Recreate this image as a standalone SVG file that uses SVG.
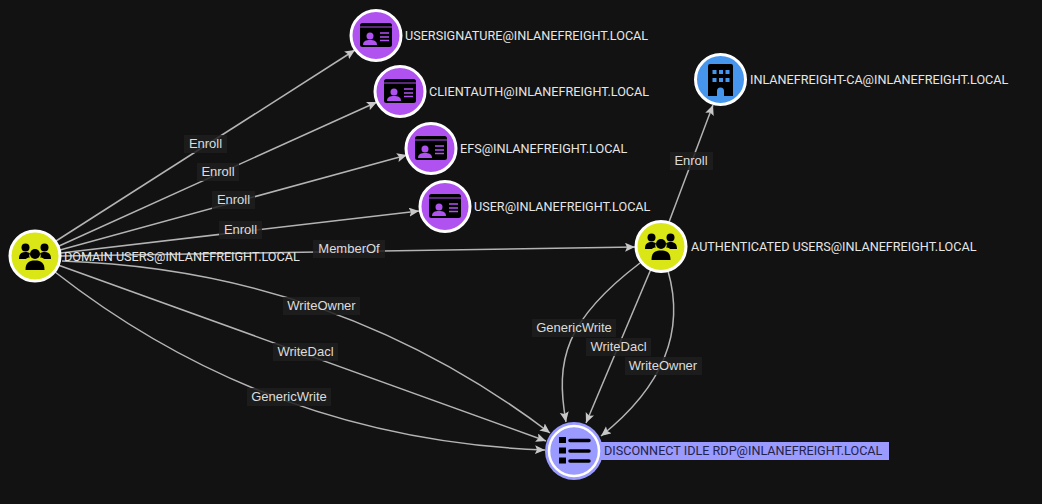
<svg xmlns="http://www.w3.org/2000/svg" width="1042" height="504" viewBox="0 0 1042 504">
<style>
text{font-family:Roboto,"Liberation Sans",sans-serif;font-size:12.63px;fill:#e6e6e6}
.e{fill:none;stroke:#b4b4b4;stroke-width:1.500;marker-end:url(#a)}
.lb{fill:#1f1f1f;fill-opacity:.85}
.lt{text-anchor:middle;font-family:"Liberation Sans",Arial,sans-serif;font-size:13px;fill:#dcdcdc}
.n{stroke:#fff;stroke-width:3}
</style>
<defs>
<marker id="a" markerUnits="userSpaceOnUse" markerWidth="12" markerHeight="10" refX="10" refY="4.500" orient="auto"><path d="M0 0L10 4.500L0 9L2 4.500Z" fill="#c8c8c8"/></marker>
<g id="group"><circle cx="-9.500" cy="-8.500" r="4"/><circle cx="9.500" cy="-8.500" r="4"/><path d="M-16 3c0-5 2-7 6.500-7 2 0 3.500.5 4.500 1.500-1 2-1 3 0 4-2 0-3 .5-4 1.500Z"/><path d="M16 3c0-5-2-7-6.500-7-2 0-3.500.5-4.500 1.500 1 2 1 3 0 4 2 0 3 .5 4 1.500Z"/><circle cx="0" cy="-2" r="5"/><path d="M-9.500 14c0-7 3-9.500 9.500-9.500s9.500 2.500 9.500 9.500Z"/></g>
<g id="card"><rect x="-16" y="-12" width="32" height="24" rx="2.500" fill="#000"/><rect x="-16" y="-8.500" width="32" height="1" fill="#b052f0"/><circle cx="-6" cy="1" r="3.500" fill="#b052f0"/><path d="M-13 10c0-4 3-5 7-5s7 1 7 5Z" fill="#b052f0"/><path d="M4-2h9M4 2h9M4 5.500h9" stroke="#b052f0" stroke-width="1.400"/></g>
</defs>
<rect width="1042" height="504" fill="#121212"/>
<g id="connectors">
<path class="e" d="M56 241L355 50"/>
<path class="e" d="M59 246L377 102"/>
<path class="e" d="M60 250L407 155"/>
<path class="e" d="M61 253L419 211"/>
<path class="e" d="M61 256L635 247"/>
<path class="e" d="M62 261Q335 270 550 433"/>
<path class="e" d="M58 265L546 441"/>
<path class="e" d="M55 272Q270 440 545 450"/>
<path class="e" d="M669 222L713 105"/>
<path class="e" d="M640 263C565 320 555 360 566 422"/>
<path class="e" d="M651 269L586 423"/>
<path class="e" d="M668 271C685 330 665 385 601 436"/>
<g>
<rect class="lb" x="184" y="135" width="43" height="18"/><text class="lt" x="205.500" y="148">Enroll</text>
<rect class="lb" x="197" y="163" width="42" height="18"/><text class="lt" x="218" y="176">Enroll</text>
<rect class="lb" x="212" y="191" width="43" height="18"/><text class="lt" x="233.500" y="204">Enroll</text>
<rect class="lb" x="219" y="221" width="43" height="18"/><text class="lt" x="240.500" y="234">Enroll</text>
<rect class="lb" x="313" y="240" width="72" height="18"/><text class="lt" x="349" y="253">MemberOf</text>
<rect class="lb" x="283" y="297" width="77" height="18"/><text class="lt" x="321.500" y="310">WriteOwner</text>
<rect class="lb" x="273" y="343" width="65" height="18"/><text class="lt" x="305.500" y="356">WriteDacl</text>
<rect class="lb" x="247" y="388" width="84" height="18"/><text class="lt" x="289" y="401">GenericWrite</text>
<rect class="lb" x="670" y="152" width="43" height="18"/><text class="lt" x="691" y="165">Enroll</text>
<rect class="lb" x="532" y="319" width="84" height="18"/><text class="lt" x="574" y="332">GenericWrite</text>
<rect class="lb" x="586" y="338" width="65" height="18"/><text class="lt" x="618.500" y="351">WriteDacl</text>
<rect class="lb" x="625" y="357" width="77" height="18"/><text class="lt" x="663" y="370">WriteOwner</text>
</g>
</g>
<g id="n-domain"><circle class="n" cx="35" cy="256" r="25" fill="#dbe617"/><use href="#group" x="35" y="256"/><text x="64" y="261">DOMAIN USERS@INLANEFREIGHT.LOCAL</text></g>
<g id="n-usersignature"><circle class="n" cx="376" cy="35.500" r="25" fill="#b052f0"/><use href="#card" x="376" y="35"/><text x="405" y="40">USERSIGNATURE@INLANEFREIGHT.LOCAL</text></g>
<g id="n-clientauth"><circle class="n" cx="400" cy="91.500" r="25" fill="#b052f0"/><use href="#card" x="400" y="91"/><text x="429" y="96">CLIENTAUTH@INLANEFREIGHT.LOCAL</text></g>
<g id="n-efs"><circle class="n" cx="431" cy="148.500" r="25" fill="#b052f0"/><use href="#card" x="431" y="148"/><text x="460" y="153">EFS@INLANEFREIGHT.LOCAL</text></g>
<g id="n-user"><circle class="n" cx="445" cy="206.500" r="25" fill="#b052f0"/><use href="#card" x="445" y="206"/><text x="474" y="211">USER@INLANEFREIGHT.LOCAL</text></g>
<g id="n-ca"><circle class="n" cx="720.500" cy="79.500" r="25" fill="#4696ee"/><path d="M710 64h21a2 2 0 0 1 2 2v30h-9v-5a3.500 3.500 0 0 0-7 0v5h-9v-30a2 2 0 0 1 2-2Z" fill="#000"/><path d="M712.500 70h4v4h-4zM719 70h4v4h-4zM725.500 70h4v4h-4zM712.500 78h4v4h-4zM719 78h4v4h-4zM725.500 78h4v4h-4z" fill="#4696ee"/><text x="750" y="84">INLANEFREIGHT-CA@INLANEFREIGHT.LOCAL</text></g>
<g id="n-auth"><circle class="n" cx="661" cy="246.500" r="25" fill="#dbe617"/><use href="#group" x="661" y="246"/><text x="691" y="251">AUTHENTICATED USERS@INLANEFREIGHT.LOCAL</text></g>
<g id="n-disconnect"><rect x="600" y="442" width="289" height="18" fill="#9a9aff"/><circle cx="574" cy="451" r="29" fill="#9a9aff"/><circle cx="574" cy="451" r="25" fill="#9a9aff" stroke="#fff" stroke-width="2.500"/><path d="M559 437h7v6h-7zM559 447.500h7v6h-7zM559 457.500h7v6h-7z" fill="#000"/><path d="M570 440.500h19M570 451h19M570 461h19" stroke="#000" stroke-width="3.500" stroke-linecap="round"/><text x="604" y="455" style="fill:#23234a">DISCONNECT IDLE RDP@INLANEFREIGHT.LOCAL</text></g>
</svg>
